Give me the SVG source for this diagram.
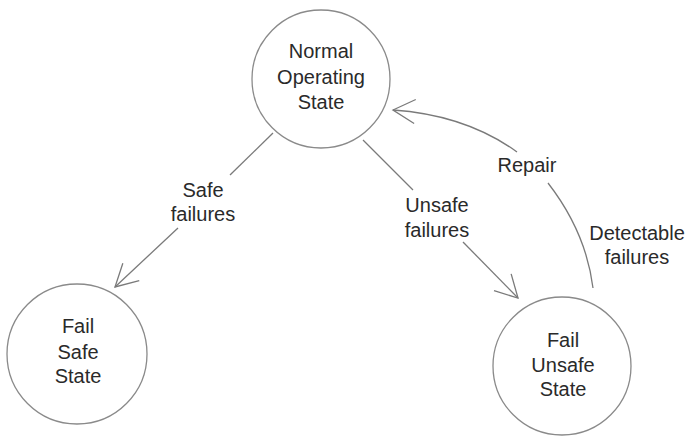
<svg xmlns="http://www.w3.org/2000/svg" width="687" height="436" viewBox="0 0 687 436">
  <style>
    .state { fill: #ffffff; stroke: #8a8a8a; stroke-width: 1.3; }
    .lbl { font-family: "Liberation Sans", Arial, sans-serif; font-size: 20px; fill: #2a2a2a; text-anchor: middle; }
    .edge { fill: none; stroke: #7a7a7a; stroke-width: 1.3; }
  </style>
  <defs>
    <marker id="vee" markerUnits="userSpaceOnUse" orient="auto" refX="0" refY="0"
            viewBox="-26 -14 28 28" markerWidth="28" markerHeight="28" overflow="visible">
      <path d="M -22 -12 L 0 0 L -22 12" fill="none" stroke="#7a7a7a" stroke-width="1.3"/>
    </marker>
  </defs>

  <rect width="687" height="436" fill="#ffffff"/>

  <!-- transitions -->
  <g id="connectors">
    <!-- safe failures -->
    <path class="edge" d="M 273 133 L 230 175"/>
    <path class="edge" d="M 178 228 L 115 287" marker-end="url(#vee)"/>
    <!-- unsafe failures -->
    <path class="edge" d="M 363 140 L 413 190"/>
    <path class="edge" d="M 463 242 L 518 298" marker-end="url(#vee)"/>
    <!-- detectable failures / repair -->
    <path class="edge" d="M 593 288 Q 586 232 548 183"/>
    <path class="edge" d="M 517 152 Q 466 115 393 110" marker-end="url(#vee)"/>
    <text class="lbl" x="203" y="197">Safe</text>
    <text class="lbl" x="203" y="221">failures</text>
    <text class="lbl" x="437" y="212">Unsafe</text>
    <text class="lbl" x="437" y="237">failures</text>
    <text class="lbl" x="527" y="172">Repair</text>
    <text class="lbl" x="637" y="240">Detectable</text>
    <text class="lbl" x="637" y="264">failures</text>
  </g>

  <g id="normal">
    <circle class="state" cx="321" cy="79" r="69"/>
    <text class="lbl" x="321" y="58">Normal</text>
    <text class="lbl" x="321" y="84">Operating</text>
    <text class="lbl" x="321" y="109">State</text>
  </g>

  <g id="fail-safe">
    <circle class="state" cx="77" cy="354" r="70"/>
    <text class="lbl" x="78" y="333">Fail</text>
    <text class="lbl" x="78" y="359">Safe</text>
    <text class="lbl" x="78" y="383">State</text>
  </g>

  <g id="fail-unsafe">
    <circle class="state" cx="562" cy="366" r="69"/>
    <text class="lbl" x="563" y="347">Fail</text>
    <text class="lbl" x="563" y="372">Unsafe</text>
    <text class="lbl" x="563" y="396">State</text>
  </g>
</svg>
